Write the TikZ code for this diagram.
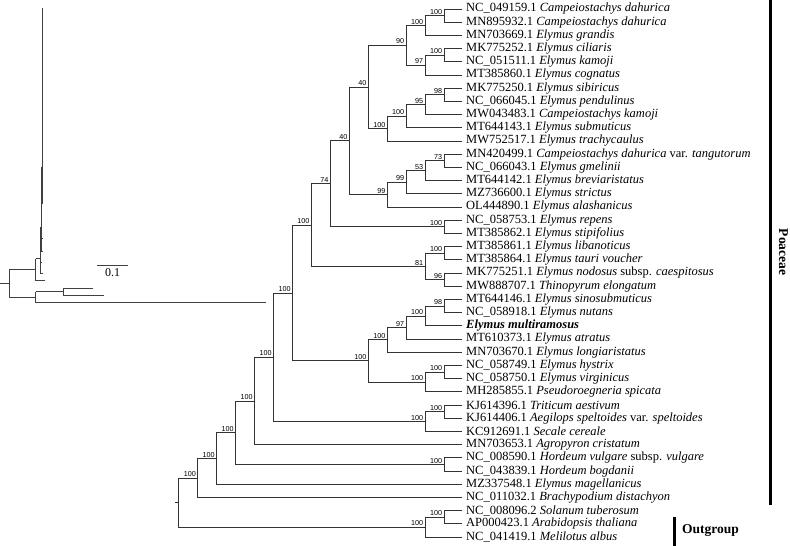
\documentclass[tikz,border=0pt]{standalone}
\usepackage{fontspec}
\setmainfont{Liberation Serif}
\newfontfamily\bsfont{Liberation Sans}
\usetikzlibrary{positioning}

\tikzset{
  br/.style={draw=black!80, line width=0.8pt},
  inset/.style={draw=black!75, line width=0.7pt},
  leaf/.style={anchor=west, inner xsep=4pt, inner ysep=0pt, font=\fontsize{12.5}{13}\selectfont},
  bs/.style={anchor=south east, inner sep=0.5pt, xshift=-1.2pt, yshift=0.6pt, font=\bsfont\fontsize{7.2}{8}\selectfont},
  grp/.style={font=\bfseries\fontsize{13.5}{14}\selectfont, inner sep=0pt},
}
% leaf: name, row, label
\newcommand{\lf}[3]{\node[leaf] (#1) at (462,{9+13.2*(#2-1)}) {#3};}
% clade: name, level, row, support
\newcommand{\cl}[4]{\coordinate (#1) at ({463-18.95*#2},{9+13.2*(#3-1)});
  \node[bs] (b#1) at (#1) {#4};}

\begin{document}
\begin{tikzpicture}[x=1pt,y=-1pt]
\useasboundingbox (0,0) rectangle (790,546);

% leaves
\lf{l1}{1}{NC\_049159.1 \textit{Campeiostachys dahurica}}
\lf{l2}{2}{MN895932.1 \textit{Campeiostachys dahurica}}
\lf{l3}{3}{MN703669.1 \textit{Elymus grandis}}
\lf{l4}{4}{MK775252.1 \textit{Elymus ciliaris}}
\lf{l5}{5}{NC\_051511.1 \textit{Elymus kamoji}}
\lf{l6}{6}{MT385860.1 \textit{Elymus cognatus}}
\lf{l7}{7}{MK775250.1 \textit{Elymus sibiricus}}
\lf{l8}{8}{NC\_066045.1 \textit{Elymus pendulinus}}
\lf{l9}{9}{MW043483.1 \textit{Campeiostachys kamoji}}
\lf{l10}{10}{MT644143.1 \textit{Elymus submuticus}}
\lf{l11}{11}{MW752517.1 \textit{Elymus trachycaulus}}
\lf{l12}{12}{MN420499.1 \textit{Campeiostachys dahurica} var. \textit{tangutorum}}
\lf{l13}{13}{NC\_066043.1 \textit{Elymus gmelinii}}
\lf{l14}{14}{MT644142.1 \textit{Elymus breviaristatus}}
\lf{l15}{15}{MZ736600.1 \textit{Elymus strictus}}
\lf{l16}{16}{OL444890.1 \textit{Elymus alashanicus}}
\lf{l17}{17}{NC\_058753.1 \textit{Elymus repens}}
\lf{l18}{18}{MT385862.1 \textit{Elymus stipifolius}}
\lf{l19}{19}{MT385861.1 \textit{Elymus libanoticus}}
\lf{l20}{20}{MT385864.1 \textit{Elymus tauri voucher}}
\lf{l21}{21}{MK775251.1 \textit{Elymus nodosus} subsp. \textit{caespitosus}}
\lf{l22}{22}{MW888707.1 \textit{Thinopyrum elongatum}}
\lf{l23}{23}{MT644146.1 \textit{Elymus sinosubmuticus}}
\lf{l24}{24}{NC\_058918.1 \textit{Elymus nutans}}
\lf{l25}{25}{\textbf{\textit{Elymus multiramosus}}}
\lf{l26}{26}{MT610373.1 \textit{Elymus atratus}}
\lf{l27}{27}{MN703670.1 \textit{Elymus longiaristatus}}
\lf{l28}{28}{NC\_058749.1 \textit{Elymus hystrix}}
\lf{l29}{29}{NC\_058750.1 \textit{Elymus virginicus}}
\lf{l30}{30}{MH285855.1 \textit{Pseudoroegneria spicata}}
\lf{l31}{31}{KJ614396.1 \textit{Triticum aestivum}}
\lf{l32}{32}{KJ614406.1 \textit{Aegilops speltoides} var. \textit{speltoides}}
\lf{l33}{33}{KC912691.1 \textit{Secale cereale}}
\lf{l34}{34}{MN703653.1 \textit{Agropyron cristatum}}
\lf{l35}{35}{NC\_008590.1 \textit{Hordeum vulgare} subsp. \textit{vulgare}}
\lf{l36}{36}{NC\_043839.1 \textit{Hordeum bogdanii}}
\lf{l37}{37}{MZ337548.1 \textit{Elymus magellanicus}}
\lf{l38}{38}{NC\_011032.1 \textit{Brachypodium distachyon}}
\lf{l39}{39}{NC\_008096.2 \textit{Solanum tuberosum}}
\lf{l40}{40}{AP000423.1 \textit{Arabidopsis thaliana}}
\lf{l41}{41}{NC\_041419.1 \textit{Melilotus albus}}

% clades
\cl{n1-2}{1}{1.5}{100}
\cl{n1-3}{2}{2.25}{100}
\cl{n4-5}{1}{4.5}{100}
\cl{n4-6}{2}{5.25}{97}
\cl{n1-6}{3}{3.75}{90}
\cl{n7-8}{1}{7.5}{98}
\cl{n7-9}{2}{8.25}{95}
\cl{n7-10}{3}{9.125}{100}
\cl{n7-11}{4}{10.0625}{100}
\cl{n1-11}{5}{6.90625}{40}
\cl{n12-13}{1}{12.5}{73}
\cl{n12-14}{2}{13.25}{53}
\cl{n12-15}{3}{14.125}{99}
\cl{n12-16}{4}{15.0625}{99}
\cl{n1-16}{6}{10.984}{40}
\cl{n17-18}{1}{17.5}{100}
\cl{n1-18}{7}{14.242}{74}
\cl{n19-20}{1}{19.5}{100}
\cl{n21-22}{1}{21.5}{96}
\cl{n19-22}{2}{20.5}{81}
\cl{n1-22}{8}{17.371}{100}
\cl{n23-24}{1}{23.5}{98}
\cl{n23-25}{2}{24.25}{100}
\cl{n23-26}{3}{25.125}{97}
\cl{n23-27}{4}{26.0625}{100}
\cl{n28-29}{1}{28.5}{100}
\cl{n28-30}{2}{29.25}{100}
\cl{n23-30}{5}{27.656}{100}
\cl{n1-30}{9}{22.514}{100}
\cl{n31-32}{1}{31.5}{100}
\cl{n31-33}{2}{32.25}{100}
\cl{n1-33}{10}{27.382}{100}
\cl{n1-34}{11}{30.691}{100}
\cl{n35-36}{1}{35.5}{100}
\cl{n1-36}{12}{33.095}{100}
\cl{n1-37}{13}{35.048}{100}
\cl{n1-38}{14}{36.524}{100}
\cl{n39-40}{1}{39.5}{100}
\cl{n39-41}{2}{40.25}{100}
\coordinate (root) at ({463-18.95*15},{9+13.2*37.387});
\coordinate (stub) at (175,{9+13.2*37.387});

\draw[br] (stub) -- (root);
\foreach \p/\c in {n1-2/l1, n1-2/l2, n1-3/n1-2, n1-3/l3, n4-5/l4, n4-5/l5,
    n4-6/n4-5, n4-6/l6, n1-6/n1-3, n1-6/n4-6, n7-8/l7, n7-8/l8, n7-9/n7-8,
    n7-9/l9, n7-10/n7-9, n7-10/l10, n7-11/n7-10, n7-11/l11, n1-11/n1-6,
    n1-11/n7-11, n12-13/l12, n12-13/l13, n12-14/n12-13, n12-14/l14,
    n12-15/n12-14, n12-15/l15, n12-16/n12-15, n12-16/l16, n1-16/n1-11,
    n1-16/n12-16, n17-18/l17, n17-18/l18, n1-18/n1-16, n1-18/n17-18,
    n19-20/l19, n19-20/l20, n21-22/l21, n21-22/l22, n19-22/n19-20,
    n19-22/n21-22, n1-22/n1-18, n1-22/n19-22, n23-24/l23, n23-24/l24,
    n23-25/n23-24, n23-25/l25, n23-26/n23-25, n23-26/l26, n23-27/n23-26,
    n23-27/l27, n28-29/l28, n28-29/l29, n28-30/n28-29, n28-30/l30,
    n23-30/n23-27, n23-30/n28-30, n1-30/n1-22, n1-30/n23-30, n31-32/l31,
    n31-32/l32, n31-33/n31-32, n31-33/l33, n1-33/n1-30, n1-33/n31-33,
    n1-34/n1-33, n1-34/l34, n35-36/l35, n35-36/l36, n1-36/n1-34,
    n1-36/n35-36, n1-37/n1-36, n1-37/l37, n1-38/n1-37, n1-38/l38,
    n39-40/l39, n39-40/l40, n39-41/n39-40, n39-41/l41, root/n1-38,
    root/n39-41}
  \draw[br] (\p) |- (\c);

% groups
\draw[line width=2.5pt] (770.7,0) -- (770.7,505);
\node[grp, rotate=-90] (poaceae) at (783.5,252) {Poaceae};
\draw[line width=2.5pt] (674.7,516.5) -- (674.7,546);
\node[grp, anchor=west] (outgroup) at (682,530.7) {Outgroup};

% inset with branch lengths
\draw[inset] (0,283.5) -- (9.3,283.5);
\draw[inset] (9.3,269.8) -- (9.3,297.2);
\draw[inset] (9.3,269.8) -- (35.7,269.8);
\draw[inset] (35.7,258.6) -- (35.7,280.7);
\draw[inset] (35.7,280.7) -- (45,280.7);
\draw[inset] (35.7,258.6) -- (40,258.6);
\draw[inset] (40,244.1) -- (40,273.3);
\draw[inset] (40,273.3) -- (43,273.3);
\draw[inset] (40,244.1) -- (40.8,244.1);
\draw[inset] (40.8,226.8) -- (40.8,262.3);
\draw[inset] (40.8,262.3) -- (42,262.3);
\draw[inset] (40.8,226.8) -- (41.3,226.8);
\draw[inset] (41.3,202.4) -- (41.3,251.2);
\draw[inset] (41.3,251.2) -- (43,251.2);
\draw[inset] (41.3,202.4) -- (41.8,202.4);
\draw[inset] (41.8,166.6) -- (41.8,237.9);
\draw[inset] (41.8,237.9) -- (42.8,237.9);
\draw[inset] (42.2,8) -- (42.2,204);
\draw[inset] (9.3,297.2) -- (35.7,297.2);
\draw[inset] (35.7,291.7) -- (35.7,302.7);
\draw[inset] (35.7,291.7) -- (63,291.7);
\draw[inset] (63,288) -- (63,295.4);
\draw[inset] (63,288) -- (92.5,288);
\draw[inset] (63,295.4) -- (104,295.4);
\draw[inset] (35.7,302.7) -- (266,302.7);
% scale bar
\draw[inset] (97,265) -- (128,265);
\node[font=\fontsize{12}{13}\selectfont, inner sep=0pt] (sbar) at (112.5,273) {0.1};
\end{tikzpicture}
\end{document}
